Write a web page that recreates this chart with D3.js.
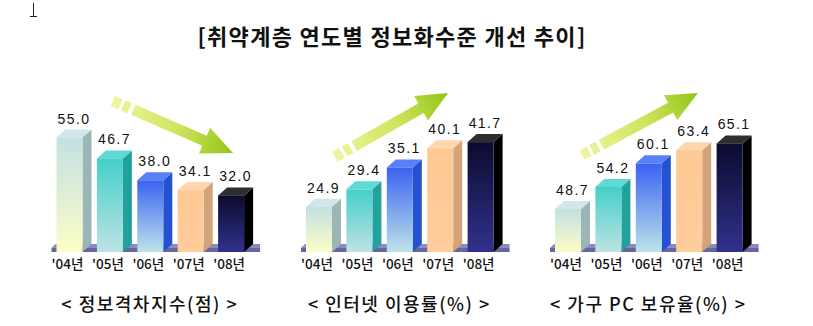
<!DOCTYPE html>
<html>
<head>
<meta charset="utf-8">
<script src="https://cdn.jsdelivr.net/npm/d3@7"></script>
<style>
  html, body { margin: 0; padding: 0; background: #fff; }
  svg { display: block; }
</style>
</head>
<body>
<svg id="chart" width="813" height="326"></svg>
<script>
// Data
const years = ["'04년", "'05년", "'06년", "'07년", "'08년"];
const gapIndex = [55.0, 46.7, 38.0, 34.1, 32.0];       // 정보격차지수(점)
const internetUse = [24.9, 29.4, 35.1, 40.1, 41.7];    // 인터넷 이용률(%)
const pcOwnership = [48.7, 54.2, 60.1, 63.4, 65.1];    // 가구 PC 보유율(%)
const chartTitles = ["< 정보격차지수(점) >", "< 인터넷 이용률(%) >", "< 가구 PC 보유율(%) >"];
const mainTitle = "[취약계층 연도별 정보화수준 개선 추이]";

// Per-year bar colours: front gradient (top, bottom), side, top face
const palette = [
  { f0: "#c2e0e3", f1: "#fdfdc6", side: "#9bb6b7", top: "#cfe7e9" },
  { f0: "#44cfca", f1: "#bde3e3", side: "#22a19d", top: "#5ed9d4" },
  { f0: "#3a62f2", f1: "#bde4e8", side: "#2450d2", top: "#5a80f8" },
  { f0: "#ffc894", f1: "#ffcc9c", side: "#d2a47c", top: "#ffd6ae" },
  { f0: "#0b0b2e", f1: "#31318e", side: "#000000", top: "#2e2e2e" }
];

const svg = d3.select("#chart");
const defs = svg.append("defs");

palette.forEach((p, i) => {
  const g = defs.append("linearGradient").attr("id", "front" + i)
    .attr("x1", 0).attr("y1", 0).attr("x2", 0).attr("y2", 1);
  g.append("stop").attr("offset", "0%").attr("stop-color", p.f0);
  g.append("stop").attr("offset", "100%").attr("stop-color", p.f1);
});

const baseY = 252;   // floor line of the bars
const depthX = 9, depthY = 8;
const barStep = 40.4, barW = 26;

const charts = [
  { values: gapIndex,    x0: 56.5, domain: [9.5, 55],   topAt: 137.5, arrow: [[113, 101], [233, 153]] },
  { values: internetUse, x0: 306,  domain: [13.1, 41.7], topAt: 142.1, arrow: [[335, 157], [448, 93]] },
  { values: pcOwnership, x0: 555,  domain: [37.9, 65.1], topAt: 143.4, arrow: [[582, 155], [698, 93]] }
];

// arrow gradient
charts.forEach((c, ci) => {
  const [a, b] = c.arrow;
  const g = defs.append("linearGradient").attr("id", "arrowGrad" + ci)
    .attr("gradientUnits", "userSpaceOnUse")
    .attr("x1", a[0]).attr("y1", a[1]).attr("x2", b[0]).attr("y2", b[1]);
  g.append("stop").attr("offset", "0%").attr("stop-color", "#eef59c");
  g.append("stop").attr("offset", "55%").attr("stop-color", "#cfe45e");
  g.append("stop").attr("offset", "100%").attr("stop-color", "#92c416");
});

// Title
svg.append("text")
  .attr("x", 392).attr("y", 45)
  .attr("text-anchor", "middle")
  .attr("font-family", "'Noto Sans CJK KR', sans-serif")
  .attr("font-size", 22).attr("font-weight", "bold")
  .attr("letter-spacing", 1.3)
  .attr("fill", "#111")
  .text(mainTitle);

// Text cursor mark at top-left
svg.append("path")
  .attr("d", "M33.5,3 V16.5 M30,16.5 H37")
  .attr("stroke", "#222").attr("stroke-width", 1).attr("fill", "none");

function arrowShapes(a, b) {
  const dx = b[0] - a[0], dy = b[1] - a[1];
  const len = Math.hypot(dx, dy);
  const ux = dx / len, uy = dy / len;
  const nx = -uy, ny = ux;
  const hw = 5.5, headHW = 14, headLen = 31;
  const pt = (s, t) => [a[0] + ux * s + nx * t, a[1] + uy * s + ny * t];
  const seg = (s0, s1) => [pt(s0, -hw), pt(s1, -hw), pt(s1, hw), pt(s0, hw)];
  const shapes = [];
  shapes.push(seg(0, 8));
  shapes.push(seg(11, 18));
  const hb = len - headLen;
  shapes.push([pt(22, -hw), pt(hb, -hw), pt(hb, -headHW), [b[0], b[1]], pt(hb, headHW), pt(hb, hw), pt(22, hw)]);
  return shapes;
}

charts.forEach((c, ci) => {
  const g = svg.append("g");
  const x = d3.scaleBand()
    .domain(years)
    .range([c.x0, c.x0 + barStep * 4 + barW])
    .paddingInner(1 - barW / barStep)
    .paddingOuter(0);
  const y = d3.scaleLinear().domain(c.domain).range([baseY, c.topAt]);
  const bw = x.bandwidth();

  // floor slab
  const xl = c.x0 - 5, xr = c.x0 + barStep * 4 + barW + depthX + 7;
  g.append("path")
    .attr("d", `M${xl},${baseY - 4} L${xl + 4},${baseY - 8} L${xr},${baseY - 8} L${xr - 0},${baseY - 4} Z`)
    .attr("fill", "#8a8abf");
  g.append("rect")
    .attr("x", xl).attr("y", baseY - 4).attr("width", xr - xl).attr("height", 4)
    .attr("fill", "#66669f");

  // decorative trend arrow
  g.selectAll("path.arrow")
    .data(arrowShapes(c.arrow[0], c.arrow[1]))
    .join("path").attr("class", "arrow")
    .attr("d", d => "M" + d.map(p => p.join(",")).join("L") + "Z")
    .attr("fill", "url(#arrowGrad" + ci + ")");

  const bars = g.selectAll("g.bar")
    .data(c.values.map((v, i) => ({ v, i, year: years[i] })))
    .join("g").attr("class", "bar");

  // side face
  bars.append("path")
    .attr("d", d => {
      const x1 = x(d.year) + bw, t = y(d.v);
      return `M${x1},${t} L${x1 + depthX},${t - depthY} L${x1 + depthX},${baseY - depthY} L${x1},${baseY} Z`;
    })
    .attr("fill", d => palette[d.i].side);

  // top face
  bars.append("path")
    .attr("d", d => {
      const x1 = x(d.year), t = y(d.v);
      return `M${x1},${t} L${x1 + depthX},${t - depthY} L${x1 + bw + depthX},${t - depthY} L${x1 + bw},${t} Z`;
    })
    .attr("fill", d => palette[d.i].top);

  // front face
  bars.append("rect")
    .attr("x", d => x(d.year))
    .attr("y", d => y(d.v))
    .attr("width", bw)
    .attr("height", d => baseY - y(d.v))
    .attr("fill", d => `url(#front${d.i})`);

  // value labels
  bars.append("text")
    .attr("x", d => x(d.year) + (bw + depthX) / 2)
    .attr("y", d => y(d.v) - depthY - 6)
    .attr("text-anchor", "middle")
    .attr("font-family", "'Liberation Sans', Arial, sans-serif")
    .attr("font-size", 14)
    .attr("letter-spacing", 1.4)
    .attr("fill", "#111")
    .text(d => d.v.toFixed(1));

  // year axis labels
  const axis = d3.axisBottom(x).tickSize(0).tickPadding(0);
  const ax = g.append("g").attr("transform", `translate(-2,${baseY + 17})`).call(axis);
  ax.select(".domain").remove();
  ax.selectAll("text")
    .attr("dy", 0)
    .attr("font-family", "'Noto Sans CJK KR', sans-serif")
    .attr("font-size", 13.5)
    .attr("font-weight", 500)
    .attr("fill", "#111");

  // chart caption
  g.append("text")
    .attr("x", (xl + xr) / 2 - 6)
    .attr("y", 311)
    .attr("text-anchor", "middle")
    .attr("font-family", "'Noto Sans CJK KR', sans-serif")
    .attr("font-size", 18)
    .attr("font-weight", 500)
    .attr("letter-spacing", 1.5)
    .attr("fill", "#111")
    .text(chartTitles[ci]);
});
</script>
</body>
</html>
